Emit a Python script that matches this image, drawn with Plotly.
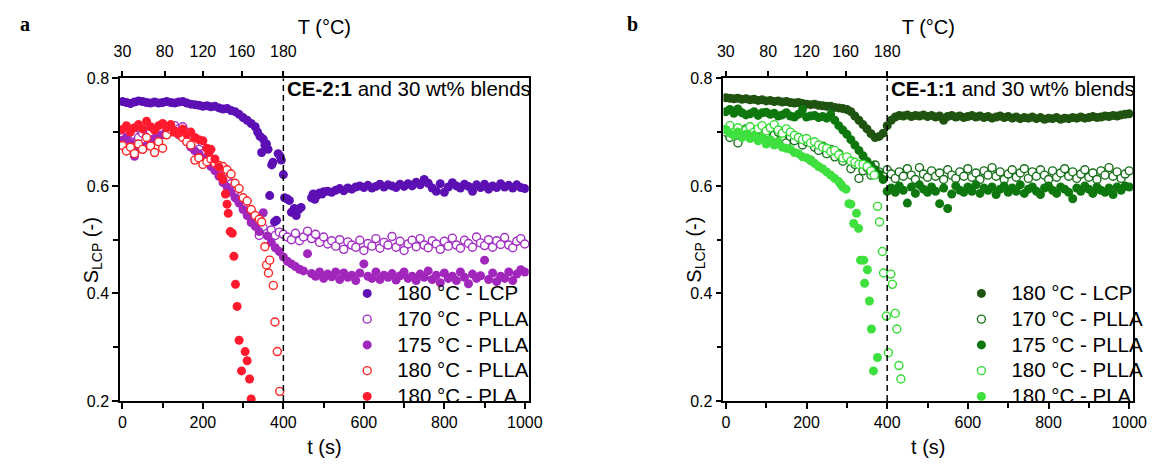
import plotly.graph_objects as go

# ---------------- data ----------------
t_grid = [0, 10, 20, 30, 40, 50, 60, 70, 80, 90, 100, 110, 120, 130, 140, 150, 160, 170, 180, 190,
          200, 210, 220, 230, 240, 250, 260, 270, 280, 290, 300, 310, 320, 330, 340, 350, 360, 370, 380, 390,
          400, 410, 420, 430, 440, 450, 460, 470, 480, 490, 500, 510, 520, 530, 540, 550, 560, 570, 580, 590,
          600, 610, 620, 630, 640, 650, 660, 670, 680, 690, 700, 710, 720, 730, 740, 750, 760, 770, 780, 790,
          800, 810, 820, 830, 840, 850, 860, 870, 880, 890, 900, 910, 920, 930, 940, 950, 960, 970, 980, 990, 1000]

T_tick_pos = [0, 105, 200, 297, 400]
T_tick_text = ["30", "80", "120", "160", "180"]
legend_names = ["180 °C - LCP", "170 °C - PLLA", "175 °C - PLLA", "180 °C - PLLA", "180 °C - PLA"]

# panel a (CE-2:1)
a_lcp_t = [0, 10, 20, 30, 40, 50, 60, 70, 80, 90, 100, 110, 120, 130, 140, 150, 160, 170, 180, 190,
           200, 210, 220, 230, 240, 250, 260, 270, 280, 290, 300, 310, 320, 330,
           336, 342, 346, 350, 354, 358, 362, 366, 371, 374, 378, 383, 387, 392, 395, 400, 403, 409, 415,
           420, 427, 432, 438, 444, 470, 474, 478, 484, 490, 496, 500,
           510, 520, 530, 540, 550, 560, 570, 580, 590, 600, 610, 620, 630, 640, 650, 660, 670, 680, 690,
           700, 710, 720, 730, 740, 750, 760, 770, 780, 790, 800, 810, 820, 830, 840, 850, 860, 870, 880,
           890, 900, 910, 920, 930, 940, 950, 960, 970, 980, 990, 1000]
a_lcp_s = [0.757, 0.755, 0.753, 0.756, 0.758, 0.757, 0.755, 0.754, 0.756, 0.754, 0.755, 0.757, 0.755, 0.754,
           0.756, 0.757, 0.754, 0.752, 0.751, 0.750, 0.748, 0.749, 0.747, 0.748, 0.745, 0.743, 0.744, 0.740,
           0.738, 0.733, 0.727, 0.722, 0.716, 0.710,
           0.700, 0.692, 0.662, 0.687, 0.676, 0.678, 0.668, 0.582, 0.639, 0.644, 0.533, 0.536, 0.660, 0.655,
           0.648, 0.621, 0.578, 0.576, 0.573, 0.551, 0.558, 0.545, 0.556, 0.560, 0.578, 0.585, 0.575, 0.583,
           0.587, 0.585, 0.589,
           0.590, 0.588, 0.592, 0.595, 0.591, 0.596, 0.594, 0.598, 0.600, 0.597, 0.601, 0.596, 0.599, 0.603,
           0.598, 0.602, 0.600, 0.597, 0.603, 0.599, 0.604, 0.600, 0.607, 0.602, 0.612, 0.605, 0.596, 0.590,
           0.604, 0.588, 0.598, 0.606, 0.600, 0.596, 0.603, 0.599, 0.590, 0.602, 0.597, 0.603, 0.594, 0.600,
           0.597, 0.604, 0.598, 0.601, 0.596, 0.602, 0.597, 0.595]

a_170_s = [0.690, 0.682, 0.688, 0.695, 0.690, 0.698, 0.692, 0.700, 0.704, 0.698, 0.706, 0.702, 0.708, 0.712,
           0.706, 0.710, 0.700, 0.690, 0.678, 0.668, 0.660, 0.652, 0.645, 0.638, 0.628, 0.620, 0.612, 0.604,
           0.590, 0.570, 0.560, 0.552, 0.540, 0.528, 0.508, 0.522, 0.512, 0.518, 0.508, 0.514, 0.510, 0.505,
           0.500, 0.512, 0.498, 0.505, 0.516, 0.502, 0.510, 0.495, 0.505, 0.492, 0.498, 0.488, 0.500, 0.482,
           0.496, 0.490, 0.486, 0.499, 0.480, 0.493, 0.488, 0.502, 0.484, 0.495, 0.490, 0.506, 0.486, 0.497,
           0.480, 0.492, 0.499, 0.487, 0.502, 0.490, 0.485, 0.498, 0.492, 0.482, 0.497, 0.488, 0.503, 0.490,
           0.484, 0.499, 0.493, 0.486, 0.505, 0.494, 0.489, 0.500, 0.486, 0.498, 0.491, 0.504, 0.490, 0.485,
           0.497, 0.502, 0.492]

a_175_s = [0.685, 0.690, 0.680, 0.655, 0.672, 0.668, 0.675, 0.680, 0.688, 0.692, 0.695, 0.698, 0.700, 0.702,
           0.695, 0.690, 0.682, 0.672, 0.665, 0.660, 0.652, 0.645, 0.636, 0.628, 0.618, 0.606, 0.598, 0.588,
           0.578, 0.568, 0.556, 0.545, 0.532, 0.525, 0.515, 0.550, 0.507, 0.495, 0.485, 0.478, 0.468, 0.460,
           0.455, 0.450, 0.445, 0.442, 0.474, 0.437, 0.432, 0.440, 0.428, 0.436, 0.431, 0.440, 0.426, 0.438,
           0.430, 0.434, 0.424, 0.438, 0.455, 0.432, 0.428, 0.440, 0.426, 0.434, 0.430, 0.437, 0.425, 0.433,
           0.440, 0.428, 0.432, 0.424, 0.436, 0.430, 0.442, 0.426, 0.434, 0.420, 0.438, 0.428, 0.432, 0.424,
           0.440, 0.430, 0.418, 0.436, 0.428, 0.433, 0.462, 0.426, 0.438, 0.422, 0.432, 0.428, 0.440, 0.424,
           0.436, 0.444, 0.440]

a_pl180_t = [0, 10, 20, 30, 40, 50, 60, 70, 80, 90, 100, 110, 120, 130, 140, 150, 160, 170, 180, 190, 200,
             210, 220, 230, 240, 250, 260, 270, 280, 290, 300, 310, 320, 330, 340, 346, 354, 358, 363, 366,
             375, 379, 385, 391]
a_pl180_s = [0.675, 0.665, 0.672, 0.660, 0.678, 0.668, 0.690, 0.674, 0.662, 0.682, 0.670, 0.695, 0.705,
             0.700, 0.696, 0.690, 0.682, 0.676, 0.648, 0.652, 0.640, 0.645, 0.650, 0.642, 0.638, 0.636,
             0.630, 0.622, 0.605, 0.595, 0.578, 0.572, 0.556, 0.545, 0.538, 0.533, 0.487, 0.453, 0.438,
             0.462, 0.415, 0.347, 0.292, 0.218]

a_pla_t = [0, 10, 20, 30, 40, 50, 60, 70, 80, 90, 100, 110, 120, 130, 140, 150, 160, 170, 180, 190, 200,
           210, 215, 220, 230, 240, 245, 250, 256, 260, 263, 268, 273, 277, 281, 285, 290, 296, 305, 310,
           316, 320]
a_pla_s = [0.705, 0.712, 0.700, 0.708, 0.714, 0.706, 0.720, 0.710, 0.704, 0.712, 0.716, 0.708, 0.714, 0.702,
           0.698, 0.706, 0.696, 0.700, 0.690, 0.686, 0.684, 0.670, 0.662, 0.668, 0.650, 0.635, 0.618, 0.612,
           0.585, 0.566, 0.549, 0.515, 0.512, 0.469, 0.417, 0.376, 0.313, 0.256, 0.292, 0.275, 0.241, 0.204]

# panel b (CE-1:1)
b_lcp_s = [0.764, 0.763, 0.762, 0.763, 0.761, 0.762, 0.760, 0.761, 0.759, 0.760, 0.758, 0.759, 0.757, 0.758,
           0.756, 0.757, 0.755, 0.754, 0.755, 0.753, 0.752, 0.751, 0.752, 0.750, 0.749, 0.748, 0.748, 0.746,
           0.745, 0.744, 0.742, 0.738, 0.730, 0.722, 0.714, 0.706, 0.697, 0.690, 0.692, 0.698, 0.712, 0.722,
           0.728, 0.731, 0.730, 0.732, 0.729, 0.731, 0.730, 0.732, 0.729, 0.731, 0.728, 0.730, 0.722, 0.729,
           0.731, 0.728, 0.730, 0.727, 0.729, 0.731, 0.728, 0.730, 0.727, 0.729, 0.726, 0.728, 0.730, 0.727,
           0.729, 0.726, 0.728, 0.725, 0.727, 0.726, 0.728, 0.725, 0.727, 0.724, 0.726, 0.725, 0.727, 0.724,
           0.726, 0.725, 0.727, 0.726, 0.728, 0.726, 0.727, 0.729, 0.727, 0.728, 0.730, 0.729, 0.731, 0.730,
           0.732, 0.733, 0.734]

b_170_s = [0.700, 0.690, 0.705, 0.680, 0.698, 0.706, 0.694, 0.702, 0.690, 0.708, 0.698, 0.704, 0.694, 0.700,
           0.686, 0.680, 0.692, 0.684, 0.690, 0.676, 0.682, 0.648, 0.672, 0.666, 0.674, 0.660, 0.668, 0.654,
           0.660, 0.646, 0.652, 0.632, 0.640, 0.614, 0.628, 0.634, 0.620, 0.639, 0.626, 0.618, 0.630, 0.622,
           0.614, 0.626, 0.618, 0.632, 0.620, 0.612, 0.634, 0.622, 0.616, 0.628, 0.618, 0.624, 0.612, 0.630,
           0.620, 0.614, 0.626, 0.618, 0.632, 0.616, 0.624, 0.612, 0.628, 0.620, 0.634, 0.618, 0.626, 0.612,
           0.622, 0.630, 0.616, 0.624, 0.632, 0.614, 0.626, 0.618, 0.630, 0.620, 0.612, 0.628, 0.616, 0.624,
           0.632, 0.618, 0.626, 0.614, 0.622, 0.630, 0.616, 0.624, 0.612, 0.628, 0.620, 0.634, 0.618, 0.626,
           0.614, 0.622, 0.628]

b_175_s = [0.738, 0.742, 0.735, 0.743, 0.736, 0.732, 0.734, 0.738, 0.731, 0.736, 0.737, 0.733, 0.735, 0.730,
           0.732, 0.736, 0.730, 0.728, 0.733, 0.742, 0.728, 0.730, 0.731, 0.727, 0.729, 0.726, 0.733, 0.722,
           0.712, 0.704, 0.696, 0.686, 0.676, 0.666, 0.656, 0.646, 0.638, 0.630, 0.622, 0.612, 0.590, 0.596,
           0.588, 0.600, 0.592, 0.568, 0.598, 0.586, 0.602, 0.594, 0.588, 0.598, 0.590, 0.567, 0.596, 0.558,
           0.585, 0.600, 0.592, 0.588, 0.598, 0.590, 0.602, 0.586, 0.596, 0.592, 0.598, 0.584, 0.594, 0.600,
           0.588, 0.596, 0.590, 0.602, 0.586, 0.594, 0.598, 0.590, 0.584, 0.596, 0.600, 0.592, 0.586, 0.598,
           0.594, 0.588, 0.576, 0.596, 0.590, 0.600, 0.594, 0.586, 0.598, 0.592, 0.588, 0.596, 0.584, 0.598,
           0.592, 0.600, 0.598]

b_pl180_t = [0, 10, 20, 30, 40, 50, 60, 70, 80, 90, 100, 110, 120, 130, 140, 150, 160, 170, 180, 190, 200,
             210, 220, 230, 240, 250, 260, 270, 280, 290, 300, 310, 320, 330, 340, 350, 360, 368, 376, 381,
             388, 391, 398, 403, 409, 413, 420, 424, 429, 434]
b_pl180_s = [0.705, 0.712, 0.700, 0.708, 0.696, 0.704, 0.710, 0.700, 0.706, 0.712, 0.702, 0.708, 0.714,
             0.704, 0.698, 0.706, 0.700, 0.694, 0.690, 0.686, 0.688, 0.680, 0.682, 0.676, 0.672, 0.670,
             0.664, 0.666, 0.658, 0.652, 0.654, 0.646, 0.644, 0.640, 0.640, 0.636, 0.628, 0.620, 0.562,
             0.533, 0.478, 0.438, 0.358, 0.290, 0.436, 0.417, 0.363, 0.334, 0.266, 0.241]

b_pla_t = [0, 10, 20, 30, 40, 50, 60, 70, 80, 90, 100, 110, 120, 130, 140, 150, 160, 170, 180, 190, 200,
           210, 220, 230, 240, 250, 260, 270, 280, 285, 290, 298, 305, 310, 317, 324, 329, 334, 342, 344,
           351, 356, 361, 366, 376]
b_pla_s = [0.705, 0.698, 0.694, 0.700, 0.690, 0.696, 0.688, 0.694, 0.684, 0.690, 0.678, 0.686, 0.676, 0.682,
           0.672, 0.670, 0.668, 0.662, 0.660, 0.654, 0.652, 0.648, 0.642, 0.636, 0.632, 0.626, 0.620, 0.614,
           0.608, 0.603, 0.598, 0.594, 0.567, 0.566, 0.530, 0.549, 0.521, 0.462, 0.462, 0.419, 0.444, 0.386,
           0.334, 0.256, 0.281]

colors_a = ["#5C10B4", "#A22EC4", "#A126BC", "#FF2222", "#FF1A2E"]
colors_b = ["#1F5410", "#17701A", "#0E780E", "#33DD33", "#3EE03E"]
filled = [True, False, True, False, True]

series_a = [(a_lcp_t, a_lcp_s), (t_grid, a_170_s), (t_grid, a_175_s), (a_pl180_t, a_pl180_s), (a_pla_t, a_pla_s)]
series_b = [(t_grid, b_lcp_s), (t_grid, b_170_s), (t_grid, b_175_s), (b_pl180_t, b_pl180_s), (b_pla_t, b_pla_s)]

FONT = "Arial, Liberation Sans, sans-serif"
W, H = 1160, 464

fig = go.Figure()


def add_panel(series, colors, xa, ya, xtop, legend):
    for (tx, sy), col, fil, name in zip(series, colors, filled, legend_names):
        if fil:
            marker = dict(symbol="circle", size=9, color=col, line=dict(width=0))
        else:
            marker = dict(symbol="circle", size=8, color="white", line=dict(width=1.4, color=col))
        fig.add_trace(go.Scatter(x=tx, y=sy, mode="markers",
                                 name='<span style="font-size:20.5px">' + name + '</span>',
                                 marker=marker, xaxis=xa, yaxis=ya, legend=legend, showlegend=True))
    # invisible copy so the temperature (top) axis gets drawn
    tx, sy = series[0]
    fig.add_trace(go.Scatter(x=tx, y=sy, mode="markers", marker=dict(opacity=0), xaxis=xtop, yaxis=ya,
                             showlegend=False, hoverinfo="skip"))


add_panel(series_a, colors_a, "x", "y", "x2", "legend")
add_panel(series_b, colors_b, "x3", "y2", "x4", "legend2")

XR = [-6, 1010]
YR = [0.2, 0.8]
YDOM = [56 / H, 1 - 73 / H]
DOM_A = [116 / W, 532 / W]
DOM_B = [730 / W, 1147 / W]

axis_font = dict(family=FONT, size=16, color="black")
title_font = dict(family=FONT, size=20, color="black")

common_x = dict(range=XR, tickvals=[0, 200, 400, 600, 800, 1000], ticks="outside", ticklen=6, tickwidth=1.5,
                tickcolor="black", showline=True, linecolor="black", linewidth=1.5, showgrid=False,
                zeroline=False, tickfont=axis_font,
                minor=dict(dtick=100, tick0=0, ticks="outside", ticklen=5, tickwidth=1.5, tickcolor="black"),
                title=dict(text="t (s)", font=title_font, standoff=10))
common_top = dict(range=XR, tickvals=T_tick_pos, ticktext=T_tick_text, ticks="outside", ticklen=6,
                  tickwidth=1.5, tickcolor="black", showline=True, linecolor="black", linewidth=1.5,
                  showgrid=False, zeroline=False, side="top", tickfont=axis_font, ticklabelstandoff=7,
                  title=dict(text="T (°C)", font=title_font, standoff=3))
common_y = dict(range=YR, tickvals=[0.2, 0.4, 0.6, 0.8], ticktext=["0.2", "0.4", "0.6", "0.8"],
                ticks="outside", ticklen=6, tickwidth=1.5, tickcolor="black", showline=True,
                linecolor="black", linewidth=1.5, mirror=True, showgrid=False, zeroline=False,
                tickfont=axis_font,
                minor=dict(dtick=0.1, tick0=0.2, ticks="outside", ticklen=5, tickwidth=1.5, tickcolor="black"),
                domain=YDOM)

leg_common = dict(xanchor="left", yanchor="bottom", y=(56 - 14) / H, bgcolor="rgba(0,0,0,0)",
                  font=dict(family=FONT, size=17.5, color="black"), tracegroupgap=0, itemwidth=50)

fig.update_layout(
    width=W, height=H, margin=dict(l=0, r=0, t=0, b=0),
    paper_bgcolor="white", plot_bgcolor="white",
    xaxis=dict(common_x, domain=DOM_A, anchor="y"),
    xaxis2=dict(common_top, overlaying="x", anchor="y"),
    yaxis=dict(common_y, anchor="x"),
    xaxis3=dict(common_x, domain=DOM_B, anchor="y2"),
    xaxis4=dict(common_top, overlaying="x3", anchor="y2"),
    yaxis2=dict(common_y, anchor="x3"),
    legend=dict(leg_common, x=337 / W),
    legend2=dict(leg_common, x=962 / W),
    showlegend=True,
)

for xa, ya in [("x", "y"), ("x3", "y2")]:
    fig.add_shape(type="line", x0=400, x1=400, y0=0.2, y1=0.8, xref=xa, yref=ya,
                  line=dict(color="black", width=1.5, dash="6px,4px"))

fig.add_annotation(x=404, y=0.782, xref="x", yref="y", xanchor="left", yanchor="middle", showarrow=False,
                   text="<b>CE-2:1</b> and 30 wt% blends", font=dict(family=FONT, size=20.5, color="black"))
fig.add_annotation(x=404, y=0.782, xref="x3", yref="y2", xanchor="left", yanchor="middle", showarrow=False,
                   text="<b>CE-1:1</b> and 30 wt% blends", font=dict(family=FONT, size=20.5, color="black"))

# y-axis titles (placed like the original, level with the tick labels)
for xpix in [88, 702]:
    fig.add_annotation(x=xpix / W, y=1 - 251 / H, xref="paper", yref="paper", xanchor="center",
                       yanchor="middle", showarrow=False, textangle=-90,
                       text="S<sub>LCP</sub> (-)", font=title_font)

fig.add_annotation(x=12 / W, y=1 - 17 / H, xref="paper", yref="paper", xanchor="left", yanchor="middle",
                   showarrow=False, text="<b>a</b>",
                   font=dict(family="Liberation Serif, Times New Roman, serif", size=20, color="black"))
fig.add_annotation(x=630 / W, y=1 - 17 / H, xref="paper", yref="paper", xanchor="left", yanchor="middle",
                   showarrow=False, text="<b>b</b>",
                   font=dict(family="Liberation Serif, Times New Roman, serif", size=20, color="black"))

fig.write_html("out.html")
